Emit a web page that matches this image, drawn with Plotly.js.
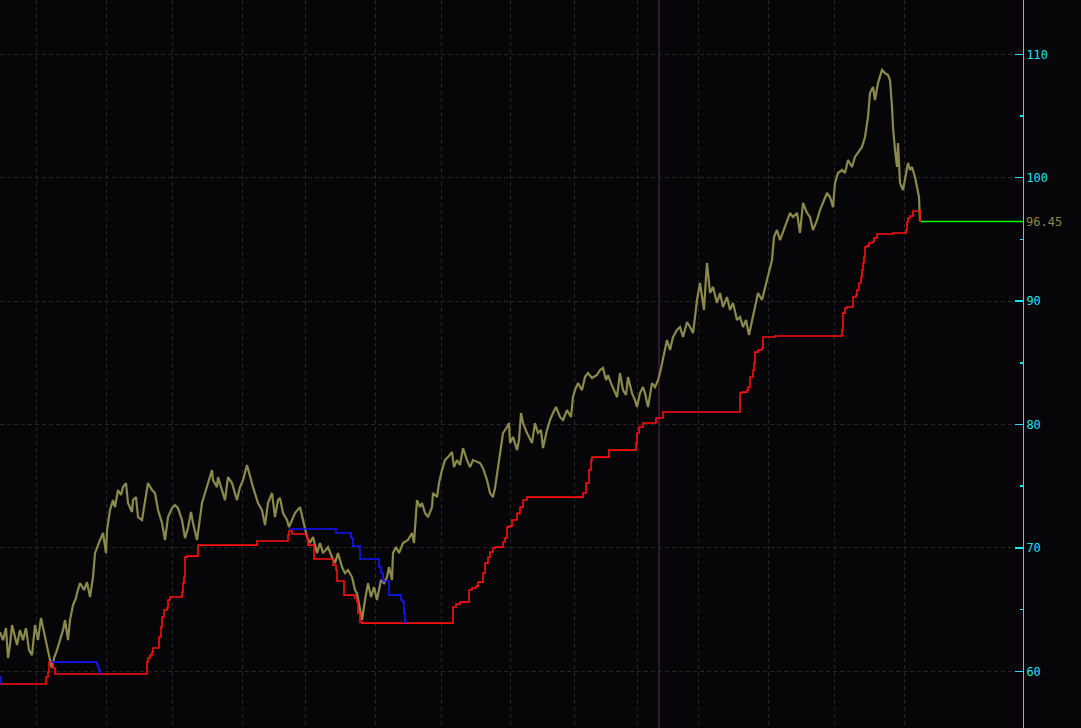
<!DOCTYPE html>
<html>
<head>
<meta charset="utf-8">
<script src="https://cdn.plot.ly/plotly-3.0.1.min.js"></script>
<style>
  html, body { margin: 0; padding: 0; background: #060608; }
  #chart { width: 1081px; height: 728px; }
</style>
</head>
<body>
<div id="chart"></div>
<script>
// ---- Data (bar index along the time axis, price values) ----
const priceBar = [0,3,6,8,10,12,14,17,20,23,26,29,32,35,38,41,44,47,50,52,54,57,60,63,65,68,70,73,76,
77,80,84,87,90,93,95,98,100,103,106,107,110,113,115,118,121,123,126,128,132,133,136,138,142,144,147,148,152,155,158,162,165,167,168,172,175,178,182,185,188,191,193,197,200,202,205,208,212,213,217,218,222,225,228,232,234,237,240,243,247,250,253,258,
262,265,268,272,275,278,280,283,287,289,292,295,300,302,305,307,310,313,317,320,323,328,332,335,338,342,345,348,352,355,357,360,362,365,368,371,374,377,381,384,387,389,392,393,396,399,403,408,412,414,416,417,420,422,425,428,432,433,437,439,442,445,448,452,454,457,460,463,467,470,473,477,480,483,487,490,493,495,498,501,503,507,509,
510,513,517,519,521,523,527,530,532,535,538,541,543,547,550,553,556,560,563,567,571,573,575,578,582,585,588,592,597,600,603,606,608,611,614,617,620,623,626,628,632,635,637,640,643,645,648,652,655,658,660,662,664,667,670,673,677,680,683,687,690,693,695,697,700,702,704,706,707,710,713,717,720,723,727,730,733,737,740,743,746,749,752,755,758,762,765,768,
772,774,777,780,783,787,790,793,797,800,803,807,810,813,817,820,823,827,830,833,835,838,842,845,848,852,855,858,862,865,868,870,873,875,878,882,885,888,890,892,893,895,897,898,900,903,905,907,908,910,912,915,917,919,920];

const priceVal = [63.18,62.53,63.51,61.08,62.13,63.75,63.10,62.13,63.34,62.53,63.51,61.72,61.32,63.75,62.53,64.32,63.18,61.89,60.91,60.27,61.08,61.72,62.53,63.34,64.16,62.53,64.16,65.37,65.94,
66.34,67.15,66.59,67.23,66.02,67.64,69.58,70.23,70.64,71.21,69.58,71.45,73.07,73.88,73.31,74.69,74.29,74.93,75.26,73.64,72.91,73.88,74.12,72.50,72.26,73.31,74.93,75.26,74.69,74.45,73.07,72.02,70.64,71.69,72.50,73.23,73.47,73.23,72.26,70.80,71.61,72.91,72.02,70.64,72.26,73.64,74.45,75.26,76.31,75.50,74.93,75.74,74.69,73.88,75.74,75.26,74.69,73.88,74.93,75.50,76.72,75.74,74.93,73.64,
73.07,71.85,73.64,74.45,72.50,73.88,74.04,72.83,72.26,71.69,72.26,72.83,73.31,72.66,71.61,70.88,70.40,70.88,69.58,70.40,69.58,70.07,69.26,68.77,69.58,68.45,67.96,68.21,67.64,66.59,66.34,64.97,64.16,65.78,67.15,66.02,66.83,65.78,67.40,67.15,67.64,68.45,67.40,69.58,70.07,69.58,70.40,70.64,71.21,70.40,72.50,73.88,73.31,73.64,72.83,72.50,73.31,74.45,74.12,75.26,76.31,77.12,77.36,77.77,76.55,77.12,76.72,78.09,77.12,76.55,77.12,76.96,76.88,76.47,75.50,74.45,74.12,74.85,76.55,78.50,79.31,79.80,80.12,
78.50,78.99,77.93,78.74,80.93,80.12,79.31,78.74,78.50,80.12,79.31,79.55,78.09,79.55,80.36,80.93,81.42,80.61,80.36,81.17,80.61,82.23,82.79,83.36,82.79,83.85,84.17,83.77,84.01,84.42,84.58,83.60,84.01,83.36,82.79,82.23,84.17,82.79,82.39,83.85,82.55,81.98,81.42,82.55,83.04,82.55,81.42,83.36,83.04,83.60,84.17,84.98,85.79,86.85,86.04,87.09,87.66,87.90,87.09,88.31,87.90,87.41,88.71,90.09,91.47,90.49,89.28,91.95,93.09,90.66,91.14,89.85,90.66,89.52,90.33,89.28,89.85,88.47,88.71,87.90,88.47,87.25,88.31,89.52,90.66,90.09,91.14,92.11,
93.33,95.19,95.76,94.95,95.60,96.33,97.14,96.81,97.14,95.52,97.95,97.14,96.81,95.76,96.57,97.38,97.95,98.76,98.44,97.62,99.57,100.38,100.62,100.38,101.43,100.87,101.68,102.00,102.49,103.30,104.92,106.86,107.35,106.30,107.67,108.73,108.48,108.32,107.92,105.73,104.11,102.24,100.87,102.81,99.57,99.00,99.81,100.87,101.19,100.62,100.87,100.06,99.25,98.44,96.45];

// long (trailing) stop, step line
const longStopBar = [0,46,48,49,53,55,147,148,150,152,153,159,161,162,164,167,168,170,182,183,184,185,187,198,257,288,289,292,307,308,314,333,336,337,344,355,357,358,360,362,453,456,460,469,472,476,478,483,485,488,490,493,495,503,505,507,509,512,517,520,523,527,583,586,589,591,592,609,636,637,639,643,656,663,740,742,747,748,750,753,754,755,758,762,763,775,842,843,845,847,853,856,857,859,861,862,863,864,865,867,869,872,874,877,893,906,907,908,910,913,920];
const longStopVal = [58.97,59.54,59.94,60.75,60.27,59.78,60.78,61.08,61.32,61.56,61.89,62.78,63.59,64.40,64.97,65.13,65.78,66.02,66.42,67.15,67.64,69.26,69.34,70.23,70.56,71.04,71.37,71.13,70.80,70.23,69.10,68.61,68.21,67.32,66.18,65.94,65.61,64.72,63.99,63.91,65.21,65.45,65.61,66.59,66.75,66.91,67.23,67.96,68.77,69.26,69.67,70.00,70.07,70.48,70.80,71.69,71.77,72.26,72.80,73.31,73.88,74.12,74.45,75.26,76.31,77.12,77.36,77.93,78.50,79.31,79.80,80.12,80.53,81.01,82.55,82.63,82.79,83.04,83.85,84.42,84.98,85.87,86.04,86.20,87.09,87.17,87.66,89.03,89.44,89.52,90.33,90.49,90.90,91.47,91.95,92.52,93.09,93.57,94.38,94.46,94.71,94.79,95.11,95.44,95.52,95.76,96.41,96.73,96.90,97.30,96.45];

// short stop, step line (null = gap)
const shortStopBar = [0,1,null,52,97,98,99,100,null,289,336,351,353,360,379,381,383,389,401,403,404,405,407];
const shortStopVal = [59.54,58.97,null,60.75,60.51,60.27,60.11,59.78,null,71.53,71.21,70.80,70.15,69.10,68.45,67.96,67.32,66.18,65.78,65.61,64.72,63.99,63.91];

const monthStartBars = [36,106,172,242,305,375,441,510,574,637,698,768,834,904];
const yTicks = [60,70,80,90,100,110];
const yTickText = ['60','70','80','90','100','110'];
const yMinorTicks = [65,75,85,95,105];
const cursorBar = 659;
const xMax = 1023;
const yMin = 55.41, yMax = 114.40;

// ---- Styles ----
const bg = '#060608';
const cyan = '#1fe3f0';
const olive = '#8b8a4c';
const gridCol = '#262626';
const monoFont = 'DejaVu Sans Mono, Liberation Mono, monospace';

const lastPrice = priceVal[priceVal.length - 1];
const lastBar = priceBar[priceBar.length - 1];

const traces = [
  { x: priceBar, y: priceVal, type: 'scatter', mode: 'lines',
    line: { color: olive, width: 2.2 }, hoverinfo: 'skip' },
  { x: longStopBar, y: longStopVal, type: 'scatter', mode: 'lines',
    line: { color: '#ff1010', width: 1.6, shape: 'hv' }, hoverinfo: 'skip' },
  { x: shortStopBar, y: shortStopVal, type: 'scatter', mode: 'lines', connectgaps: false,
    line: { color: '#1414ff', width: 1.6, shape: 'hv' }, hoverinfo: 'skip' },
  { x: [lastBar + 1, xMax], y: [lastPrice, lastPrice], type: 'scatter', mode: 'lines',
    line: { color: '#00ff00', width: 1.5 }, hoverinfo: 'skip' }
];

const layout = {
  width: 1081, height: 728,
  margin: { l: 0, r: 58, t: 0, b: 0, pad: 0 },
  paper_bgcolor: bg, plot_bgcolor: bg,
  showlegend: false,
  xaxis: {
    range: [0, xMax], tickmode: 'array', tickvals: monthStartBars,
    showticklabels: false, ticks: '', showgrid: true, gridcolor: gridCol,
    griddash: '4px,3px', gridwidth: 1, zeroline: false, showline: false, fixedrange: true
  },
  yaxis: {
    side: 'right', range: [yMin, yMax], tickmode: 'array', tickvals: yTicks, ticktext: yTickText,
    ticks: 'inside', ticklen: 8, tickwidth: 1.5, tickcolor: cyan,
    showline: true, linecolor: cyan, linewidth: 1,
    showgrid: true, gridcolor: gridCol, griddash: '4px,3px', gridwidth: 1,
    zeroline: false, fixedrange: true,
    tickfont: { family: monoFont, size: 12, color: cyan },
    minor: { tickmode: 'array', tickvals: yMinorTicks, ticks: 'inside', ticklen: 3,
             tickcolor: cyan, tickwidth: 1.5, showgrid: false }
  },
  shapes: [
    { type: 'line', xref: 'x', yref: 'paper', x0: cursorBar, x1: cursorBar, y0: 0, y1: 1,
      line: { color: '#5a2a66', width: 1 }, layer: 'below' }
  ],
  annotations: [
    { xref: 'paper', yref: 'y', x: 1, y: lastPrice, xanchor: 'left', yanchor: 'middle',
      xshift: 1, showarrow: false, text: lastPrice.toFixed(2),
      font: { family: monoFont, size: 12, color: olive } }
  ]
};

Plotly.newPlot('chart', traces, layout, { displayModeBar: false, staticPlot: true });
</script>
</body>
</html>
